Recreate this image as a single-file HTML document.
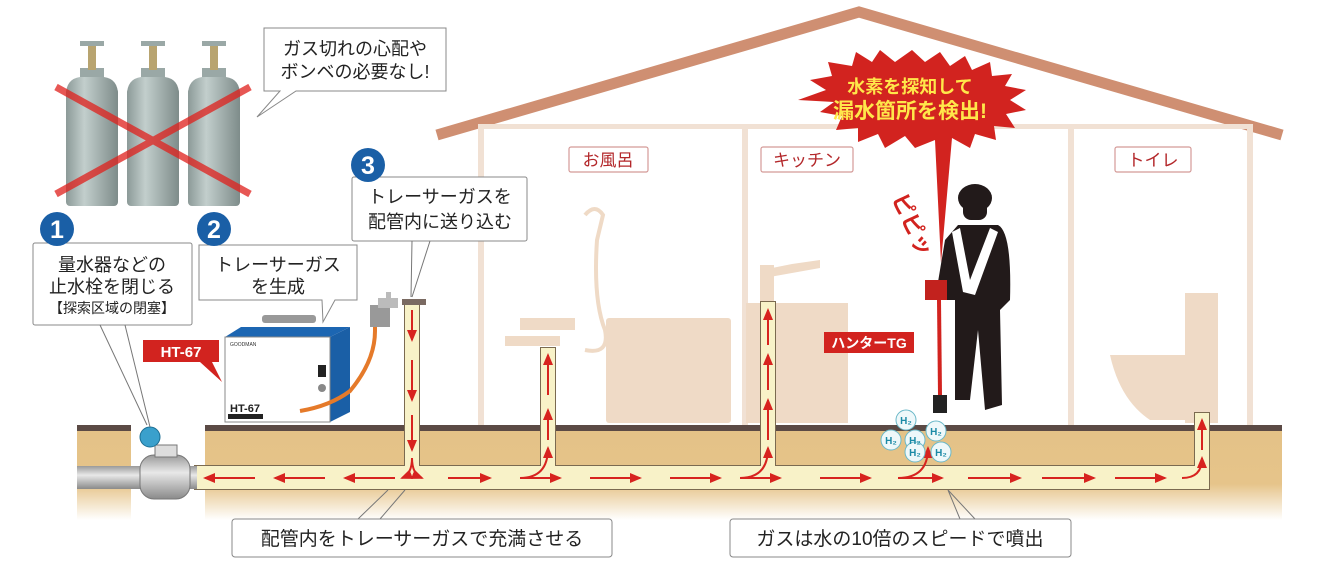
<!DOCTYPE html>
<html><head><meta charset="utf-8"><style>
html,body{margin:0;padding:0;background:#fff;}
svg{display:block;}
text{font-family:"Liberation Sans","Noto Sans CJK JP",sans-serif;}
</style></head><body>
<svg width="1322" height="567" viewBox="0 0 1322 567" xmlns="http://www.w3.org/2000/svg">
<defs>
<linearGradient id="gr" x1="0" y1="0" x2="0" y2="1">
<stop offset="0" stop-color="#e4c287"/><stop offset="0.6" stop-color="#e6c48a"/><stop offset="1" stop-color="#fff"/></linearGradient>
<linearGradient id="tk" x1="0" y1="0" x2="1" y2="0">
<stop offset="0" stop-color="#8c9a98"/><stop offset="0.35" stop-color="#c2cecc"/><stop offset="1" stop-color="#7e8c8a"/></linearGradient>
<linearGradient id="gp" x1="0" y1="0" x2="0" y2="1">
<stop offset="0" stop-color="#9a9a9a"/><stop offset="0.4" stop-color="#e8e8e8"/><stop offset="1" stop-color="#8a8a8a"/></linearGradient>
<marker id="ar" markerWidth="6" markerHeight="6" refX="5" refY="3" orient="auto"><path d="M0,0.5L6,3L0,5.5z" fill="#d7231f"/></marker>
</defs>

<!-- roof -->
<polyline points="437,135 859,12 1282,135" fill="none" stroke="#cf8f72" stroke-width="11"/>
<!-- interior walls -->
<g fill="#f1e1d4">
<rect x="478" y="124" width="775" height="5"/>
<rect x="478" y="124" width="6" height="302"/>
<rect x="742" y="124" width="6" height="302"/>
<rect x="1068" y="124" width="6" height="302"/>
<rect x="1247" y="124" width="6" height="302"/>
</g>
<!-- room labels -->
<g font-size="17" fill="#b3272a">
<rect x="569" y="147" width="79" height="25" rx="2" fill="#fff" stroke="#d49a98" stroke-width="1.2"/>
<text x="608" y="166" text-anchor="middle">お風呂</text>
<rect x="761" y="147" width="92" height="25" rx="2" fill="#fff" stroke="#d49a98" stroke-width="1.2"/>
<text x="807" y="166" text-anchor="middle">キッチン</text>
<rect x="1115" y="147" width="76" height="25" rx="2" fill="#fff" stroke="#d49a98" stroke-width="1.2"/>
<text x="1153" y="166" text-anchor="middle">トイレ</text>
</g>
<!-- fixtures -->
<g fill="#efdac6">
<rect x="606" y="318" width="125" height="105" rx="3"/>
<rect x="520" y="318" width="55" height="12"/>
<rect x="505" y="336" width="55" height="10"/>
<path d="M585,215 q10,-12 18,0 l-6,25 q-4,60 8,90 q5,25 -20,20" fill="none" stroke="#efdac6" stroke-width="4"/>
<rect x="746" y="303" width="102" height="120"/>
<rect x="760" y="265" width="14" height="40"/>
<path d="M762,270 l30,-6 l28,-4 v8 l-56,10z"/>
<rect x="1185" y="293" width="33" height="130"/>
<path d="M1110,355 h80 v65 h-40 q-30,-20 -40,-65z"/>
</g>

<!-- ground -->
<rect x="77" y="430" width="1205" height="90" fill="url(#gr)"/>
<rect x="131" y="425" width="74" height="100" fill="#fff"/>
<rect x="77" y="425" width="54" height="6" fill="#5b4a45"/>
<rect x="205" y="425" width="1077" height="6" fill="#5b4a45"/>

<!-- pipes: outlines then fills -->
<g fill="#7b6a50">
<rect x="194" y="465" width="1016" height="25"/>
<rect x="404" y="299" width="16" height="170"/>
<rect x="540" y="347" width="16" height="122"/>
<rect x="760" y="301" width="16" height="168"/>
<rect x="1194" y="412" width="16" height="57"/>
</g>
<g fill="#f8f2c8">
<rect x="195" y="466" width="1014" height="23"/>
<rect x="405" y="300" width="14" height="170"/>
<rect x="541" y="348" width="14" height="122"/>
<rect x="761" y="302" width="14" height="168"/>
<rect x="1195" y="413" width="14" height="57"/>
</g>
<rect x="77" y="466" width="120" height="23" fill="url(#gp)"/>
<rect x="140" y="455" width="50" height="44" rx="14" fill="url(#gp)" stroke="#777"/>
<rect x="155" y="445" width="22" height="12" fill="#ddd" stroke="#777"/>
<circle cx="150" cy="437" r="10" fill="#3aa0cc" stroke="#1c6f94"/>
<!-- arrows -->
<g stroke="#d7231f" stroke-width="2" marker-end="url(#ar)" fill="none">
<line x1="395" y1="478" x2="345" y2="478"/><line x1="325" y1="478" x2="275" y2="478"/><line x1="255" y1="478" x2="205" y2="478"/>
<line x1="448" y1="478" x2="490" y2="478"/><line x1="520" y1="478" x2="560" y2="478"/><line x1="590" y1="478" x2="640" y2="478"/>
<line x1="670" y1="478" x2="720" y2="478"/><line x1="740" y1="478" x2="780" y2="478"/><line x1="820" y1="478" x2="870" y2="478"/>
<line x1="898" y1="478" x2="942" y2="478"/><line x1="968" y1="478" x2="1020" y2="478"/><line x1="1042" y1="478" x2="1094" y2="478"/><line x1="1115" y1="478" x2="1165" y2="478"/>
<line x1="412" y1="310" x2="412" y2="340"/><line x1="412" y1="360" x2="412" y2="400"/><line x1="412" y1="415" x2="412" y2="450"/>
<path d="M412,458 q0,16 -10,20"/><path d="M412,458 q0,16 10,20"/>
<path d="M520,478 q28,0 28,-30"/><line x1="548" y1="440" x2="548" y2="410"/><line x1="548" y1="395" x2="548" y2="355"/>
<path d="M740,478 q28,0 28,-30"/><line x1="768" y1="440" x2="768" y2="400"/><line x1="768" y1="390" x2="768" y2="355"/><line x1="768" y1="345" x2="768" y2="310"/>
<path d="M1182,478 q20,0 20,-20"/><line x1="1202" y1="450" x2="1202" y2="420"/>
<path d="M898,478 q30,0 30,-30"/>
</g>

<!-- tanks -->
<g>
<g id="t1"><rect x="66" y="88" width="52" height="118" rx="4" fill="url(#tk)"/><path d="M66,95 q0,-16 14,-18 h24 q14,2 14,18z" fill="url(#tk)"/><rect x="80" y="68" width="24" height="9" fill="#9aa8a6"/><rect x="88" y="46" width="8" height="24" fill="#b8a470"/><rect x="80" y="41" width="24" height="5" fill="#9aa8a6"/></g>
<use href="#t1" x="61"/><use href="#t1" x="122"/>
</g>
<g stroke="#e0201c" stroke-width="7" opacity="0.75"><line x1="56" y1="87" x2="250" y2="194"/><line x1="56" y1="194" x2="250" y2="87"/></g>

<!-- bubbles -->
<g fill="#fff" stroke="#888" stroke-width="1">
<path d="M264,28 H446 V91 H296 L257,117 L280,91 H264 Z"/>
<rect x="33" y="243" width="159" height="82" rx="2"/>
<path d="M199,245 H357 V300 H335 L323,322 L322,300 H199 Z"/>
<rect x="352" y="177" width="175" height="64" rx="2"/>
</g>
<g stroke="#777" stroke-width="1" fill="none">
<path d="M100,325 L147,425 M125,325 L150,427"/>
<path d="M412,241 L411,297 M430,241 L412,297"/>
<path d="M388,490 L358,519 M405,490 L380,519"/>
<path d="M948,490 L960,519 M948,490 L975,519"/>
</g>
<g font-size="18" fill="#222" text-anchor="middle">
<text x="355" y="55">ガス切れの心配や</text><text x="355" y="78">ボンベの必要なし!</text>
<text x="112" y="271">量水器などの</text><text x="112" y="293">止水栓を閉じる</text>
<text x="112" y="313" font-size="14">【探索区域の閉塞】</text>
<text x="278" y="271">トレーサーガス</text><text x="278" y="293">を生成</text>
<text x="440" y="203">トレーサーガスを</text><text x="440" y="228">配管内に送り込む</text>
</g>
<!-- number circles -->
<g fill="#1a5fa6"><circle cx="57" cy="229" r="17"/><circle cx="214" cy="229" r="17"/><circle cx="368" cy="165" r="17"/></g>
<g fill="#fff" font-size="25" font-weight="bold" text-anchor="middle"><text x="57" y="238">1</text><text x="214" y="238">2</text><text x="368" y="174">3</text></g>

<!-- HT-67 label -->
<path d="M143,340 H219 V362 H212 L222,382 L200,362 H143 Z" fill="#d2231f"/>
<text x="181" y="357" fill="#fff" font-size="15" font-weight="bold" text-anchor="middle">HT-67</text>
<!-- machine -->
<rect x="262" y="315" width="54" height="8" rx="3" fill="#999"/>
<path d="M225,337 L241,327 H350 L330,337Z" fill="#1c66b2"/>
<path d="M330,337 L350,327 V412 L330,422Z" fill="#1a5fa6"/>
<rect x="225" y="337" width="105" height="85" fill="#fff" stroke="#888"/>
<text x="230" y="346" font-size="5" fill="#333">GOODMAN</text>
<rect x="318" y="365" width="8" height="12" fill="#222"/>
<circle cx="322" cy="388" r="4" fill="#888"/>
<text x="230" y="412" font-size="11" font-weight="bold" fill="#222">HT-67</text>
<rect x="228" y="414" width="35" height="5" fill="#222"/>
<path d="M300,411 q30,-5 50,-20 q25,-30 25,-60 v-20" fill="none" stroke="#e57a2a" stroke-width="4"/>
<!-- faucet -->
<rect x="370" y="305" width="20" height="22" fill="#999"/>
<path d="M378,298 h20 v10 h-20z" fill="#bbb"/>
<rect x="386" y="292" width="5" height="8" fill="#bbb"/>
<rect x="402" y="299" width="24" height="6" fill="#7a6a62"/>

<!-- burst -->
<polygon fill="#d2231f" points="912,50 925,62 940,52 950,66 965,56 972,70 990,62 992,76 1012,74 1005,86 1026,90 1010,100 1026,110 1006,114 1015,128 994,126 996,140 975,134 970,148 952,138 941,263 935,140 915,148 905,136 885,148 878,134 858,142 858,128 836,130 842,116 820,112 834,102 798,100 826,90 810,80 832,76 828,62 852,66 856,52 872,62 880,50 895,62"/>
<g font-size="18" font-weight="bold" fill="#ffe74a" text-anchor="middle">
<text x="910" y="93">水素を探知して</text><text x="910" y="118" font-size="21">漏水箇所を検出!</text></g>
<text x="912" y="232" font-size="22" font-weight="bold" fill="#d2231f" text-anchor="middle" transform="rotate(65 912 225)">ピピッ</text>

<!-- person -->
<g fill="#221a1a">
<ellipse cx="975" cy="198" rx="17" ry="14"/>
<rect x="963" y="198" width="24" height="22" rx="8"/>
<path d="M958,225 H998 Q1012,232 1010,300 L1000,310 L1002,405 L985,410 L978,330 L970,400 L955,400 L955,300 L935,300 L945,240Z"/>
<rect x="925" y="280" width="22" height="20" fill="#c2221e"/>
</g>
<path d="M960,228 L970,280 L990,228 L998,232 L975,295 L963,292 L952,232Z" fill="#fff"/>
<line x1="939" y1="300" x2="940" y2="395" stroke="#d2231f" stroke-width="4"/>
<rect x="933" y="395" width="14" height="18" fill="#222"/>
<rect x="824" y="332" width="90" height="21" fill="#d2231f"/>
<text x="869" y="348" font-size="14" font-weight="bold" fill="#fff" text-anchor="middle">ハンターTG</text>
<!-- H2 bubbles -->
<g fill="#eef8fa" stroke="#6bb8c8" stroke-width="1">
<circle cx="906" cy="420" r="10"/><circle cx="891" cy="440" r="10"/><circle cx="915" cy="440" r="10"/><circle cx="936" cy="431" r="10"/><circle cx="915" cy="452" r="10"/><circle cx="941" cy="452" r="10"/>
</g>
<g font-size="10" fill="#1b8aa6" font-weight="bold" text-anchor="middle">
<text x="906" y="424">H₂</text><text x="891" y="444">H₂</text><text x="915" y="444">H₂</text><text x="936" y="435">H₂</text><text x="915" y="456">H₂</text><text x="941" y="456">H₂</text></g>

<!-- bottom labels -->
<rect x="232" y="519" width="380" height="38" rx="3" fill="#fff" stroke="#888"/>
<text x="422" y="545" font-size="19" fill="#222" text-anchor="middle">配管内をトレーサーガスで充満させる</text>
<rect x="730" y="519" width="341" height="38" rx="3" fill="#fff" stroke="#888"/>
<text x="900" y="545" font-size="19" fill="#222" text-anchor="middle">ガスは水の10倍のスピードで噴出</text>
</svg>
</body></html>
